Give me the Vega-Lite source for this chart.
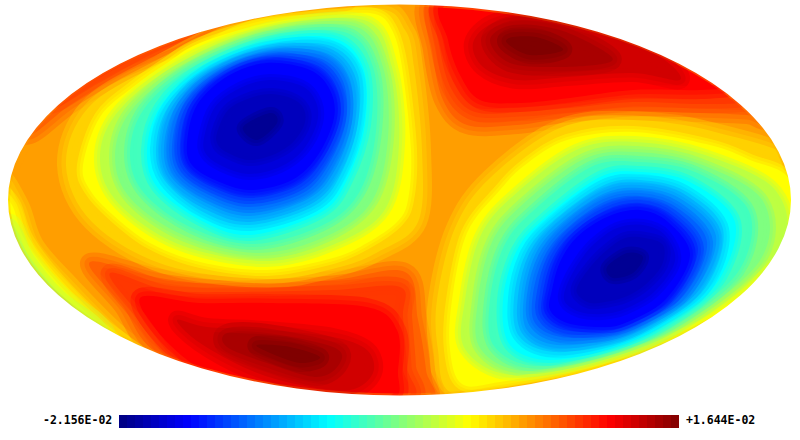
{"$schema":"https://vega.github.io/schema/vega-lite/v6.json","width":800,"height":440,"padding":0,"autosize":"none","background":"white","config":{"view":{"stroke":null}},
"datasets":{"warm":[
{"c":"base","v":0.0058,"xs":[793.5,780.1,740.7,678.1,596.5,501.5,399.5,297.5,202.5,120.9,58.3,18.9,5.5,18.9,58.3,120.9,202.5,297.5,399.5,501.5,596.5,678.1,740.7,780.1],"ys":[200,251.2,299,340,371.5,391.3,398,391.3,371.5,340,299,251.2,200,148.8,101,60,28.5,8.7,2,8.7,28.5,60,101,148.8]},
{"c":"tl78","v":0.00808,"xs":[15,100,200,330,345,250,180,120,70,30],"ys":[120,30,5,-5,7,16,50,75,105,135]},
{"c":"tl82","v":0.0096,"xs":[40,120,190,240,210,150,95,50],"ys":[85,30,5,-5,22,50,80,105]},
{"c":"e67","v":0.0039,"xs":[0,0,60,130,170,120,70,35,20],"ys":[180,260,320,372,372,335,285,245,205]},
{"c":"e625","v":0.00219,"xs":[0,0,60,120,150,100,55,25,12],"ys":[200,265,325,365,365,325,280,240,205]},
{"c":"e56","v":-0.00028,"xs":[8,10,60,105,95,60,30,18],"ys":[225,270,310,335,320,294,258,232]},
{"c":"t78","v":0.00808,"xs":[428,432,443,467,517,567,633,700,747,765,750,640,500],"ys":[0,50,100,125,125,118,112,113,115,118,70,10,-5]},
{"c":"t82","v":0.0096,"xs":[436,440,452,475,520,570,633,700,740,755,720,600,480],"ys":[0,50,90,112,112,108,102,104,103,98,50,5,-5]},
{"c":"t875","v":0.01169,"xs":[446,448,460,480,520,570,633,700,735,740,660,560],"ys":[0,40,75,100,103,98,90,90,85,60,20,0]},
{"c":"t92","v":0.0134,"xs":[473,483,517,567,633,680,660,600,533,493],"ys":[43,67,80,77,73,80,57,33,17,23]},
{"c":"t96","v":0.01492,"xs":[490,510,560,607,607,560,513],"ys":[40,63,67,63,53,30,25]},
{"c":"t100","v":0.01644,"xs":[507,530,563,540,513],"ys":[43,55,50,38,37]},
{"c":"b78","v":0.00808,"xs":[90,160,233,333,405,418,426,426,300,165,122],"ys":[262,278,285,280,272,320,370,402,402,358,305]},
{"c":"b82","v":0.0096,"xs":[110,167,233,333,400,403,407,407,280,190,140],"ys":[273,290,292,290,287,317,367,400,400,372,315]},
{"c":"b875","v":0.01169,"xs":[140,200,267,367,397,398,390,300,225,170],"ys":[298,303,303,307,330,370,400,400,382,345]},
{"c":"b92","v":0.0134,"xs":[177,207,267,333,367,373,350,300,250,200],"ys":[320,327,330,337,350,373,390,385,370,343]},
{"c":"b96","v":0.01492,"xs":[227,267,333,340,317,267,227],"ys":[333,333,347,363,377,363,347]},
{"c":"b100","v":0.01644,"xs":[257,290,320,300,270],"ys":[345,347,357,363,353]},
{"c":"a67","v":0.0039,"xs":[66,88,155,260,375,405,414,422,418,378,336,267,165,92],"ys":[165,108,66,18,8,30,67,150,222,252,268,279,265,222]},
{"c":"d67","v":0.0039,"xs":[437,455,490,560,633,715,800,810,700,600,510,450,438],"ys":[300,228,178,128,120,132,165,240,340,372,394,392,350]}
],
"cool":[
{"c":"a625","v":0.00219,"xs":[83,100,133,167,200,267,335,375,392,402,411,408,397,367,333,267,200,150,113,90],"ys":[165,117,87,63,43,23,15,14,30,67,150,200,222,243,258,270,262,243,215,190]},
{"c":"a56","v":-0.00028,"xs":[100,116,176,267,364,392,399,384,330,263,178,119],"ys":[161,114,65,28,20,67,144,211,246,261,244,204]},
{"c":"a50","v":-0.00256,"xs":[115,130,184,267,354,383,388,372,327,259,185,131],"ys":[158,112,67,33,26,67,138,201,236,253,236,199]},
{"c":"a44","v":-0.00484,"xs":[130,144,191,267,344,373,376,360,323,254,192,144],"ys":[154,109,68,37,32,67,131,191,225,244,228,193]},
{"c":"a375","v":-0.00731,"xs":[147,160,200,267,333,363,365,347,320,250,200,157],"ys":[150,107,70,42,38,67,125,180,213,235,220,187]},
{"c":"a32","v":-0.0094,"xs":[156,168,206,267,328,357,358,341,314,250,203,165],"ys":[148,107,71,47,45,72,123,174,206,225,212,181]},
{"c":"a27","v":-0.0113,"xs":[164,176,212,267,323,349,352,335,308,250,206,172],"ys":[147,106,72,51,52,77,122,170,199,216,203,178]},
{"c":"a22","v":-0.0132,"xs":[172,183,217,267,319,343,346,329,303,250,209,179],"ys":[146,106,74,55,58,81,121,164,193,207,195,174]},
{"c":"a17","v":-0.0151,"xs":[180,190,223,267,314,336,340,323,297,250,212,186],"ys":[144,105,75,59,64,86,119,159,186,198,187,169]},
{"c":"a125","v":-0.01681,"xs":[187,197,228,267,310,330,334,318,292,250,215,192],"ys":[143,105,76,63,70,90,118,155,180,190,180,165]},
{"c":"a09","v":-0.01814,"xs":[204,215,240,270,302,316,317,303,280,249,222,206],"ys":[138,107,88,80,86,102,123,150,167,174,166,154]},
{"c":"a06","v":-0.01928,"xs":[217,228,250,272,295,305,303,290,270,248,228,218],"ys":[133,110,98,94,100,112,128,145,156,160,153,145]},
{"c":"a02","v":-0.0208,"xs":[243,270,277,257],"ys":[127,113,123,140]},
{"c":"d625","v":0.00219,"xs":[452,467,500,525,567,633,710,750,790,800,750,690,600,500,462,450],"ys":[300,233,190,165,140,132,145,160,180,240,292,328,362,382,384,350]},
{"c":"d56","v":-0.00028,"xs":[465,480,512,576,635,705,776,778,684,604,513,465],"ys":[300,237,197,150,142,155,191,251,327,358,375,349]},
{"c":"d50","v":-0.00256,"xs":[478,492,523,584,637,700,763,759,679,609,525,480],"ys":[300,242,204,159,152,164,201,262,326,355,371,348]},
{"c":"d44","v":-0.00484,"xs":[490,504,533,591,638,695,749,738,673,613,537,494],"ys":[300,246,211,167,162,172,211,272,324,351,366,346]},
{"c":"d375","v":-0.00731,"xs":[503,517,545,600,640,690,735,717,667,617,550,510],"ys":[300,250,218,177,172,182,222,283,323,347,360,345]},
{"c":"d32","v":-0.0094,"xs":[514,526,552,602,640,685,723,706,658,613,554,519],"ys":[298,253,222,186,180,191,229,287,323,343,352,336]},
{"c":"d27","v":-0.0113,"xs":[524,535,558,603,640,681,716,695,649,610,557,527],"ys":[296,255,226,194,188,199,236,290,323,339,345,330]},
{"c":"d22","v":-0.0132,"xs":[533,544,565,604,640,676,707,685,641,607,561,535],"ys":[294,257,230,202,196,207,242,294,323,335,337,323]},
{"c":"d17","v":-0.0151,"xs":[543,552,571,606,640,672,698,674,633,603,564,543],"ys":[292,260,234,210,203,215,249,297,323,331,330,316]},
{"c":"d125","v":-0.01681,"xs":[552,560,577,607,640,668,690,665,625,600,567,550],"ys":[290,262,237,217,210,222,255,300,323,327,323,310]},
{"c":"d09","v":-0.01814,"xs":[566,578,594,617,643,665,675,654,625,602,580,565],"ys":[287,264,244,228,225,235,261,292,309,314,312,302]},
{"c":"d06","v":-0.01928,"xs":[578,592,607,625,645,663,662,645,625,605,590,578],"ys":[285,265,250,238,238,245,265,285,297,302,303,295]},
{"c":"d02","v":-0.0208,"xs":[607,627,643,633,613],"ys":[267,253,257,273,278]}
]},
"encoding":{
"x":{"field":"xs","type":"quantitative","scale":{"domain":[0,800],"nice":false,"zero":false},"axis":null},
"y":{"field":"ys","type":"quantitative","scale":{"domain":[440,0],"nice":false,"zero":false},"axis":null},
"order":{"value":null}
},
"resolve":{"legend":{"color":"independent"}},
"layer":[
{"data":{"name":"warm"},"transform":[{"flatten":["xs","ys"]}],
"mark":{"type":"line","filled":true,"interpolate":"cardinal-closed","strokeWidth":18,"strokeOpacity":0.4},
"encoding":{"detail":{"field":"c"},
"color":{"field":"v","type":"quantitative","scale":{"domain":[-0.02156,-0.01681,-0.00731,0.00219,0.01169,0.01644],"range":["#000080","#0000ff","#00ffff","#ffff00","#ff0000","#800000"],"interpolate":"rgb"},"legend":null},
"stroke":{"field":"v","type":"quantitative","scale":{"domain":[-0.02156,-0.01681,-0.00731,0.00219,0.01169,0.01644],"range":["#000080","#0000ff","#00ffff","#ffff00","#ff0000","#800000"],"interpolate":"rgb"},"legend":null}}},
{"data":{"name":"warm"},"transform":[{"flatten":["xs","ys"]}],
"mark":{"type":"line","interpolate":"cardinal-closed","strokeWidth":9,"strokeOpacity":0.4},
"encoding":{"detail":{"field":"c"},
"stroke":{"field":"v","type":"quantitative","scale":{"domain":[-0.02156,-0.01681,-0.00731,0.00219,0.01169,0.01644],"range":["#000080","#0000ff","#00ffff","#ffff00","#ff0000","#800000"],"interpolate":"rgb"},"legend":null}}},
{"data":{"name":"cool"},"transform":[{"flatten":["xs","ys"]}],
"mark":{"type":"line","filled":true,"interpolate":"cardinal-closed","strokeWidth":12,"strokeOpacity":0.4},
"encoding":{"detail":{"field":"c"},
"color":{"field":"v","type":"quantitative","scale":{"domain":[-0.02156,-0.01681,-0.00731,0.00219,0.01169,0.01644],"range":["#000080","#0000ff","#00ffff","#ffff00","#ff0000","#800000"],"interpolate":"rgb"},"legend":null},
"stroke":{"field":"v","type":"quantitative","scale":{"domain":[-0.02156,-0.01681,-0.00731,0.00219,0.01169,0.01644],"range":["#000080","#0000ff","#00ffff","#ffff00","#ff0000","#800000"],"interpolate":"rgb"},"legend":null}}},
{"data":{"name":"cool"},"transform":[{"flatten":["xs","ys"]}],
"mark":{"type":"line","interpolate":"cardinal-closed","strokeWidth":6,"strokeOpacity":0.4},
"encoding":{"detail":{"field":"c"},
"stroke":{"field":"v","type":"quantitative","scale":{"domain":[-0.02156,-0.01681,-0.00731,0.00219,0.01169,0.01644],"range":["#000080","#0000ff","#00ffff","#ffff00","#ff0000","#800000"],"interpolate":"rgb"},"legend":null}}},
{"data":{"values":[{"xs":[831,816.3,773.2,704.6,615.3,511.3,399.5,287.7,183.7,94.4,25.8,-17.3,-32,-17.3,25.8,94.4,183.7,287.7,399.5,511.3,615.3,704.6,773.2,816.3],"ys":[200,261,317.8,366.5,403.9,427.5,435.5,427.5,403.9,366.5,317.8,261,200,139,82.2,33.5,-3.9,-27.5,-35.5,-27.5,-3.9,33.5,82.2,139]}]},
"transform":[{"flatten":["xs","ys"]}],
"mark":{"type":"line","interpolate":"cardinal-closed","strokeWidth":40,"color":"white"}},
{"data":{"values":[{"xs":[802,788.3,748.1,684.1,600.8,503.7,399.5,295.3,198.2,114.9,50.9,10.7,-3,10.7,50.9,114.9,198.2,295.3,399.5,503.7,600.8,684.1,748.1,788.3],"ys":[200,253.4,303.3,346,378.8,399.5,406.5,399.5,378.8,346,303.3,253.4,200,146.6,96.7,54,21.2,0.5,-6.5,0.5,21.2,54,96.7,146.6]}]},
"transform":[{"flatten":["xs","ys"]}],
"mark":{"type":"line","interpolate":"cardinal-closed","strokeWidth":22,"color":"white"}},
{"data":{"values":[
{"xs":123,"ys":421.5,"v":-0.02129},{"xs":131,"ys":421.5,"v":-0.02075},{"xs":139,"ys":421.5,"v":-0.0202},{"xs":147,"ys":421.5,"v":-0.01966},{"xs":155,"ys":421.5,"v":-0.01912},{"xs":163,"ys":421.5,"v":-0.01858},{"xs":171,"ys":421.5,"v":-0.01803},{"xs":179,"ys":421.5,"v":-0.01749},{"xs":187,"ys":421.5,"v":-0.01695},{"xs":195,"ys":421.5,"v":-0.0164},
{"xs":203,"ys":421.5,"v":-0.01586},{"xs":211,"ys":421.5,"v":-0.01532},{"xs":219,"ys":421.5,"v":-0.01477},{"xs":227,"ys":421.5,"v":-0.01423},{"xs":235,"ys":421.5,"v":-0.01369},{"xs":243,"ys":421.5,"v":-0.01315},{"xs":251,"ys":421.5,"v":-0.0126},{"xs":259,"ys":421.5,"v":-0.01206},{"xs":267,"ys":421.5,"v":-0.01152},{"xs":275,"ys":421.5,"v":-0.01097},
{"xs":283,"ys":421.5,"v":-0.01043},{"xs":291,"ys":421.5,"v":-0.00989},{"xs":299,"ys":421.5,"v":-0.00934},{"xs":307,"ys":421.5,"v":-0.0088},{"xs":315,"ys":421.5,"v":-0.00826},{"xs":323,"ys":421.5,"v":-0.00772},{"xs":331,"ys":421.5,"v":-0.00717},{"xs":339,"ys":421.5,"v":-0.00663},{"xs":347,"ys":421.5,"v":-0.00609},{"xs":355,"ys":421.5,"v":-0.00554},
{"xs":363,"ys":421.5,"v":-0.005},{"xs":371,"ys":421.5,"v":-0.00446},{"xs":379,"ys":421.5,"v":-0.00391},{"xs":387,"ys":421.5,"v":-0.00337},{"xs":395,"ys":421.5,"v":-0.00283},{"xs":403,"ys":421.5,"v":-0.00229},{"xs":411,"ys":421.5,"v":-0.00174},{"xs":419,"ys":421.5,"v":-0.0012},{"xs":427,"ys":421.5,"v":-0.00066},{"xs":435,"ys":421.5,"v":-0.00011},
{"xs":443,"ys":421.5,"v":0.00043},{"xs":451,"ys":421.5,"v":0.00097},{"xs":459,"ys":421.5,"v":0.00152},{"xs":467,"ys":421.5,"v":0.00206},{"xs":475,"ys":421.5,"v":0.0026},{"xs":483,"ys":421.5,"v":0.00314},{"xs":491,"ys":421.5,"v":0.00369},{"xs":499,"ys":421.5,"v":0.00423},{"xs":507,"ys":421.5,"v":0.00477},{"xs":515,"ys":421.5,"v":0.00532},
{"xs":523,"ys":421.5,"v":0.00586},{"xs":531,"ys":421.5,"v":0.0064},{"xs":539,"ys":421.5,"v":0.00695},{"xs":547,"ys":421.5,"v":0.00749},{"xs":555,"ys":421.5,"v":0.00803},{"xs":563,"ys":421.5,"v":0.00857},{"xs":571,"ys":421.5,"v":0.00912},{"xs":579,"ys":421.5,"v":0.00966},{"xs":587,"ys":421.5,"v":0.0102},{"xs":595,"ys":421.5,"v":0.01075},
{"xs":603,"ys":421.5,"v":0.01129},{"xs":611,"ys":421.5,"v":0.01183},{"xs":619,"ys":421.5,"v":0.01238},{"xs":627,"ys":421.5,"v":0.01292},{"xs":635,"ys":421.5,"v":0.01346},{"xs":643,"ys":421.5,"v":0.014},{"xs":651,"ys":421.5,"v":0.01455},{"xs":659,"ys":421.5,"v":0.01509},{"xs":667,"ys":421.5,"v":0.01563},{"xs":675,"ys":421.5,"v":0.01617}
]},
"mark":{"type":"rect","width":8,"height":13},
"encoding":{"color":{"field":"v","type":"quantitative","scale":{"domain":[-0.02156,-0.01681,-0.00731,0.00219,0.01169,0.01644],"range":["#000080","#0000ff","#00ffff","#ffff00","#ff0000","#800000"],"interpolate":"rgb"},"legend":null}}},
{"data":{"values":[{"xs":43,"ys":421,"label":"-2.156E-02"},{"xs":686,"ys":421,"label":"+1.644E-02"}]},
"mark":{"type":"text","align":"left","baseline":"middle","font":"DejaVu Sans Mono","fontWeight":"bold","fontSize":11.5,"color":"black"},
"encoding":{"text":{"field":"label"}}}
]}
